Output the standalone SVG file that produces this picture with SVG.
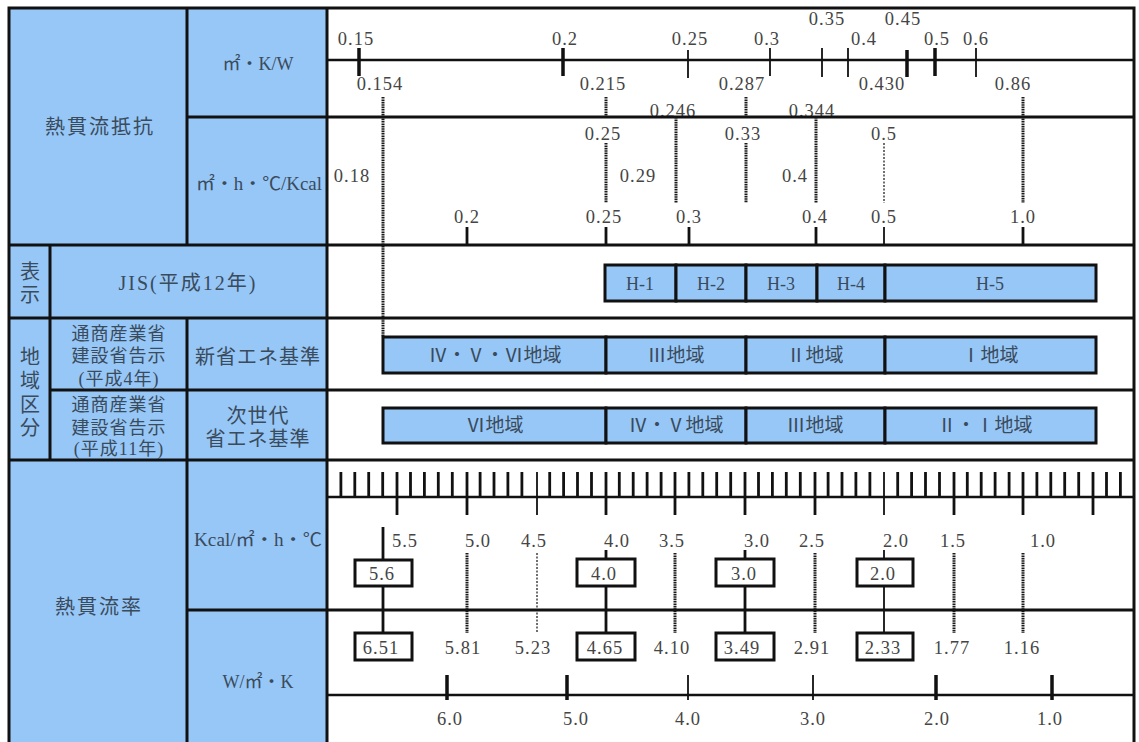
<svg xmlns="http://www.w3.org/2000/svg" width="1139" height="742" viewBox="0 0 1139 742">
<style>
.blue{fill:#97c7f7}
.grid{stroke:#111;stroke-width:3;fill:none;stroke-linecap:square}
.ax{stroke:#111;stroke-width:2.5;fill:none}
.tk{stroke:#111;stroke-width:3.5;fill:none}
.tm{stroke:#111;stroke-width:2.8;fill:none}
.tn{stroke:#111;stroke-width:1.8;fill:none}
.ds{stroke:#1a1a1a;stroke-width:3;stroke-dasharray:1.6 0.8;fill:none}
.dt{stroke:#333;stroke-width:1.4;stroke-dasharray:2 1.5;fill:none}
.num{font-family:"Liberation Serif",serif;font-size:18.5px;fill:#454545;letter-spacing:1px;text-anchor:middle}
.jp{font-family:"Liberation Serif","Noto Sans CJK JP",sans-serif;fill:#3a4b5c;text-anchor:middle}
.bar{fill:#97c7f7;stroke:#111;stroke-width:3}
.box{fill:#fff;stroke:#111;stroke-width:3}
</style>
<rect x="0" y="0" width="1139" height="742" fill="#fff"/>
<rect class="blue" x="9" y="8" width="318" height="734"/>

<g id="header-cells">
<g id="cell-resistance"><text class="jp" x="100" y="134" font-size="20" letter-spacing="2">熱貫流抵抗</text></g>
<g id="cell-unit-w"><text class="jp" x="258" y="70" font-size="18">㎡・K/W</text></g>
<g id="cell-unit-kcal"><text class="jp" x="259" y="190" font-size="18" textLength="126" lengthAdjust="spacingAndGlyphs">㎡・h・℃/Kcal</text></g>
<g id="cell-hyoji"><text class="jp" x="30" y="279" font-size="20">表</text><text class="jp" x="30" y="302" font-size="20">示</text></g>
<g id="cell-jis"><text class="jp" x="188" y="290" font-size="20" letter-spacing="2">JIS(平成12年)</text></g>
<g id="cell-chiiki"><text class="jp" x="30" y="364" font-size="20">地</text><text class="jp" x="30" y="388" font-size="20">域</text><text class="jp" x="30" y="412" font-size="20">区</text><text class="jp" x="30" y="435" font-size="20">分</text></g>
<g id="cell-notice4"><text class="jp" x="119" y="340" font-size="18" letter-spacing="1">通商産業省</text><text class="jp" x="119" y="362" font-size="18" letter-spacing="1">建設省告示</text><text class="jp" x="119" y="385" font-size="18" letter-spacing="1">(平成4年)</text></g>
<g id="cell-notice11"><text class="jp" x="119" y="411" font-size="18" letter-spacing="1">通商産業省</text><text class="jp" x="119" y="434" font-size="18" letter-spacing="1">建設省告示</text><text class="jp" x="119" y="455" font-size="18" letter-spacing="1">(平成11年)</text></g>
<g id="cell-new-std"><text class="jp" x="258" y="364" font-size="20" letter-spacing="1">新省エネ基準</text></g>
<g id="cell-next-std"><text class="jp" x="258" y="423" font-size="20" letter-spacing="1">次世代</text><text class="jp" x="258" y="446" font-size="20" letter-spacing="1">省エネ基準</text></g>
<g id="cell-transmittance"><text class="jp" x="99" y="614" font-size="20" letter-spacing="2">熱貫流率</text></g>
<g id="cell-unit-kcal2"><text class="jp" x="258" y="546" font-size="18" textLength="128" lengthAdjust="spacingAndGlyphs">Kcal/㎡・h・℃</text></g>
<g id="cell-unit-w2"><text class="jp" x="258" y="688" font-size="18">W/㎡・K</text></g>
</g>

<g id="connectors">
<path class="ds" d="M383 97V337M606 97V117M606 143V203M676 117V203M746 97V117M746 143V203M816 117V203M1023 97V203"/>
<path class="dt" d="M884 143V203"/>
<path class="ds" d="M467 553V633M675 553V633M815 553V633M954 553V633M1023 553V633"/>
<path class="dt" d="M537 553V633"/>
<path class="tm" d="M383 527V560M383 586V633M606 550V559M606 586V633M745 550V559M745 586V633"/>
<path class="tn" d="M884 550V559M884 586V633"/>
</g>

<g id="labels">
<text class="num" x="356" y="45">0.15</text>
<text class="num" x="565" y="45">0.2</text>
<text class="num" x="690" y="45">0.25</text>
<text class="num" x="767" y="45">0.3</text>
<text class="num" x="827" y="25">0.35</text>
<text class="num" x="903" y="25">0.45</text>
<text class="num" x="864" y="45">0.4</text>
<text class="num" x="937" y="45">0.5</text>
<text class="num" x="976" y="45">0.6</text>
<text class="num" x="380" y="90">0.154</text>
<text class="num" x="603" y="90">0.215</text>
<text class="num" x="742" y="90">0.287</text>
<text class="num" x="882" y="90">0.430</text>
<text class="num" x="1013" y="90">0.86</text>
<text class="num" x="673" y="117">0.246</text>
<text class="num" x="812" y="117">0.344</text>
<text class="num" x="603" y="140">0.25</text>
<text class="num" x="743" y="140">0.33</text>
<text class="num" x="884" y="140">0.5</text>
<text class="num" x="352" y="182">0.18</text>
<text class="num" x="638" y="182">0.29</text>
<text class="num" x="795" y="182">0.4</text>
<text class="num" x="467" y="223">0.2</text>
<text class="num" x="604" y="223">0.25</text>
<text class="num" x="689" y="223">0.3</text>
<text class="num" x="815" y="223">0.4</text>
<text class="num" x="884" y="223">0.5</text>
<text class="num" x="1023" y="223">1.0</text>
<text class="num" x="405" y="547">5.5</text>
<text class="num" x="478" y="547">5.0</text>
<text class="num" x="534" y="547">4.5</text>
<text class="num" x="617" y="547">4.0</text>
<text class="num" x="672" y="547">3.5</text>
<text class="num" x="757" y="547">3.0</text>
<text class="num" x="812" y="547">2.5</text>
<text class="num" x="896" y="547">2.0</text>
<text class="num" x="953" y="547">1.5</text>
<text class="num" x="1043" y="547">1.0</text>
<text class="num" x="463" y="654">5.81</text>
<text class="num" x="533" y="654">5.23</text>
<text class="num" x="672" y="654">4.10</text>
<text class="num" x="812" y="654">2.91</text>
<text class="num" x="952" y="654">1.77</text>
<text class="num" x="1022" y="654">1.16</text>
<text class="num" x="450" y="725">6.0</text>
<text class="num" x="576" y="725">5.0</text>
<text class="num" x="688" y="725">4.0</text>
<text class="num" x="813" y="725">3.0</text>
<text class="num" x="937" y="725">2.0</text>
<text class="num" x="1050" y="725">1.0</text>
</g>

<g id="grid">
<path class="grid" d="M9 8H1134V742M9 8V742M187 117H1134M9 245H1134M9 318H1134M50 390H1134M9 460H1134M187 610H1134M187 8V245M187 318V742M50 245V460M327 8V742"/>
</g>

<g id="axes">
<path class="ax" d="M327 60H1134M327 497H1134M327 695H1134"/>
<path class="tk" d="M359 48V76M563 48V76M907 50V77M935 48V76"/>
<path class="tn" d="M688 50V78M770 48V76M822 48V77M848 48V77M976 48V77"/>
<path class="tm" d="M467 227V245M606 227V245M689 227V245M816 227V245M1023 227V245"/>
<path class="tn" d="M884 227V245"/>
<path class="tm" d="M340.9 472V497M354.8 472V497M368.7 472V497M382.7 472V497M410.5 472V497M424.4 472V497M438.3 472V497M452.3 472V497M480.1 472V497M494 472V497M507.9 472V497M521.9 472V497M549.7 472V497M563.6 472V497M577.5 472V497M591.5 472V497M619.3 472V497M633.2 472V497M647.1 472V497M661.1 472V497M688.9 472V497M702.8 472V497M716.7 472V497M730.7 472V497M758.5 472V497M772.4 472V497M786.3 472V497M800.3 472V497M828.1 472V497M842 472V497M855.9 472V497M869.9 472V497M897.7 472V497M911.6 472V497M925.5 472V497M939.5 472V497M967.3 472V497M981.2 472V497M995.1 472V497M1009.1 472V497M1036.9 472V497M1050.8 472V497M1064.7 472V497M1078.7 472V497M1106.5 472V497M1120.4 472V497"/>
<path class="tm" d="M397 472V515M467 472V515M606 472V515M675 472V515M745 472V515M815 472V515M954 472V515M1023 472V515M1093 472V515"/>
<path class="tn" d="M537 472V515M884 472V515"/>
<path class="tk" d="M447 675V700M567 675V700M936 675V700M1052 675V700"/>
<path class="tn" d="M688 675V700M813 675V700"/>
</g>

<g id="jis-bars">
<g id="h1"><rect class="bar" x="605" y="265" width="71" height="36"/><text class="jp" x="640" y="290" font-size="18">H-1</text></g>
<g id="h2"><rect class="bar" x="676" y="265" width="70" height="36"/><text class="jp" x="711" y="290" font-size="18">H-2</text></g>
<g id="h3"><rect class="bar" x="746" y="265" width="71" height="36"/><text class="jp" x="781" y="290" font-size="18">H-3</text></g>
<g id="h4"><rect class="bar" x="817" y="265" width="68" height="36"/><text class="jp" x="851" y="290" font-size="18">H-4</text></g>
<g id="h5"><rect class="bar" x="885" y="265" width="211" height="36"/><text class="jp" x="990" y="290" font-size="18">H-5</text></g>
</g>

<g id="region-new">
<g id="r1a"><rect class="bar" x="383" y="337" width="223" height="36"/><text class="jp" x="495" y="362" font-size="19">Ⅳ・Ⅴ・Ⅵ地域</text></g>
<g id="r1b"><rect class="bar" x="606" y="337" width="140" height="36"/><text class="jp" x="676" y="362" font-size="19">Ⅲ地域</text></g>
<g id="r1c"><rect class="bar" x="746" y="337" width="139" height="36"/><text class="jp" x="815" y="362" font-size="19">Ⅱ地域</text></g>
<g id="r1d"><rect class="bar" x="885" y="337" width="211" height="36"/><text class="jp" x="990" y="362" font-size="19">Ⅰ地域</text></g>
</g>

<g id="region-next">
<g id="r2a"><rect class="bar" x="383" y="408" width="223" height="35"/><text class="jp" x="495" y="432" font-size="19">Ⅵ地域</text></g>
<g id="r2b"><rect class="bar" x="606" y="408" width="140" height="35"/><text class="jp" x="676" y="432" font-size="19">Ⅳ・Ⅴ地域</text></g>
<g id="r2c"><rect class="bar" x="746" y="408" width="139" height="35"/><text class="jp" x="815" y="432" font-size="19">Ⅲ地域</text></g>
<g id="r2d"><rect class="bar" x="885" y="408" width="211" height="35"/><text class="jp" x="985" y="432" font-size="19">Ⅱ・Ⅰ地域</text></g>
</g>

<g id="value-boxes">
<g id="b56"><rect class="box" x="355" y="560" width="57" height="26"/><text class="num" x="382" y="580">5.6</text></g>
<g id="b40"><rect class="box" x="577" y="559" width="58" height="27"/><text class="num" x="604" y="580">4.0</text></g>
<g id="b30"><rect class="box" x="716" y="559" width="58" height="27"/><text class="num" x="744" y="580">3.0</text></g>
<g id="b20"><rect class="box" x="857" y="559" width="56" height="27"/><text class="num" x="883" y="580">2.0</text></g>
<g id="b651"><rect class="box" x="355" y="633" width="57" height="27"/><text class="num" x="381" y="654">6.51</text></g>
<g id="b465"><rect class="box" x="577" y="633" width="58" height="27"/><text class="num" x="605" y="654">4.65</text></g>
<g id="b349"><rect class="box" x="716" y="633" width="58" height="27"/><text class="num" x="742" y="654">3.49</text></g>
<g id="b233"><rect class="box" x="857" y="633" width="56" height="27"/><text class="num" x="883" y="654">2.33</text></g>
</g>
</svg>
